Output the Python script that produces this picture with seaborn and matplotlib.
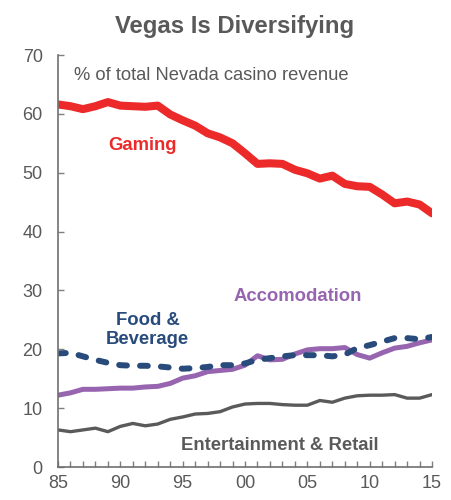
import matplotlib
matplotlib.use("Agg")
import matplotlib.pyplot as plt
from matplotlib.ticker import MultipleLocator
import seaborn as sns
import pandas as pd

years = list(range(1985, 2016))

gaming = [61.6, 61.3, 60.8, 61.3, 62.0, 61.4, 61.3, 61.2, 61.4, 59.9,
          58.9, 58.0, 56.7, 56.0, 55.0, 53.3, 51.5, 51.6, 51.5, 50.5,
          49.9, 49.0, 49.5, 48.1, 47.7, 47.6, 46.3, 44.8, 45.1, 44.6, 43.1]
food_beverage = [19.3, 19.4, 18.8, 18.2, 17.7, 17.3, 17.2, 17.2, 17.1, 16.9,
                 16.7, 16.8, 17.0, 17.3, 17.3, 17.6, 18.2, 18.5, 18.8, 19.0,
                 19.0, 19.0, 18.8, 19.1, 20.2, 20.7, 21.3, 21.9, 21.9, 21.7, 22.1]
accommodation = [12.2, 12.6, 13.2, 13.2, 13.3, 13.4, 13.4, 13.6, 13.7, 14.2,
                 15.1, 15.5, 16.2, 16.4, 16.6, 17.3, 18.9, 18.2, 18.3, 19.2,
                 19.9, 20.1, 20.1, 20.3, 19.1, 18.5, 19.4, 20.2, 20.5, 21.1, 21.6]
entertainment = [6.3, 6.0, 6.3, 6.6, 6.0, 6.9, 7.4, 7.0, 7.3, 8.1,
                 8.5, 9.0, 9.1, 9.4, 10.2, 10.7, 10.8, 10.8, 10.6, 10.5,
                 10.5, 11.3, 11.0, 11.7, 12.1, 12.2, 12.2, 12.3, 11.7, 11.7, 12.3]

x_ticks = [1985, 1990, 1995, 2000, 2005, 2010, 2015]
x_tick_labels = ["85", "90", "95", "00", "05", "10", "15"]
y_ticks = [0, 10, 20, 30, 40, 50, 60, 70]

df = pd.DataFrame({
    "year": years,
    "Gaming": gaming,
    "Food & Beverage": food_beverage,
    "Accomodation": accommodation,
    "Entertainment & Retail": entertainment,
})

sns.set_theme(style="white")
plt.rcParams["font.family"] = ["Liberation Sans", "DejaVu Sans"]

TEXT = "#595959"
RED = "#ec2a2a"
NAVY = "#284b7b"
PURPLE = "#9765b0"
GREY = "#5a5a5a"

fig = plt.figure(figsize=(4.51, 5.0), dpi=100)
ax = fig.add_axes([0.1286, 0.066, 0.8294, 0.824])

sns.lineplot(data=df, x="year", y="Entertainment & Retail", ax=ax,
             color=GREY, linewidth=2.4, solid_capstyle="round")
sns.lineplot(data=df, x="year", y="Accomodation", ax=ax,
             color=PURPLE, linewidth=3.6, solid_capstyle="round")
sns.lineplot(data=df, x="year", y="Food & Beverage", ax=ax,
             color=NAVY, linewidth=4.3, linestyle=(0, (1.3, 2.2)),
             dash_capstyle="round")
sns.lineplot(data=df, x="year", y="Gaming", ax=ax,
             color=RED, linewidth=5.8, solid_capstyle="round")

ax.set_xlim(1985, 2015)
ax.set_ylim(0, 70)
ax.set_xlabel("")
ax.set_ylabel("")

ax.set_xticks(x_ticks)
ax.set_xticklabels(x_tick_labels)
ax.xaxis.set_minor_locator(MultipleLocator(1))
ax.set_yticks(y_ticks)

ax.tick_params(axis="both", which="both", direction="in", length=4,
               width=1, color="#7f7f7f", labelcolor=TEXT, labelsize=13)
ax.tick_params(axis="y", pad=11, left=True)
ax.tick_params(axis="x", which="both", bottom=True, pad=6)

for side in ("top", "right"):
    ax.spines[side].set_visible(False)
for side in ("left", "bottom"):
    ax.spines[side].set_color("#6f6f6f")
    ax.spines[side].set_linewidth(1.2)

label_kw = dict(fontsize=13.3, fontweight="bold", ha="center", va="center")
ax.text(1991.8, 54.6, "Gaming", color=RED, **label_kw)
ax.text(1992.2, 23.3, "Food &\nBeverage", color=NAVY, linespacing=1.15, **label_kw)
ax.text(2004.25, 28.9, "Accomodation", color=PURPLE, **label_kw)
ax.text(2002.8, 3.6, "Entertainment & Retail", color=GREY, **label_kw)

ax.text(1986.3, 65.8, "% of total Nevada casino revenue", color=TEXT,
        fontsize=13.2, ha="left", va="baseline")

fig.text(0.519, 0.934, "Vegas Is Diversifying", color=TEXT, fontsize=17.2,
         fontweight="bold", ha="center", va="baseline")

fig.savefig("out.png", dpi=100)
